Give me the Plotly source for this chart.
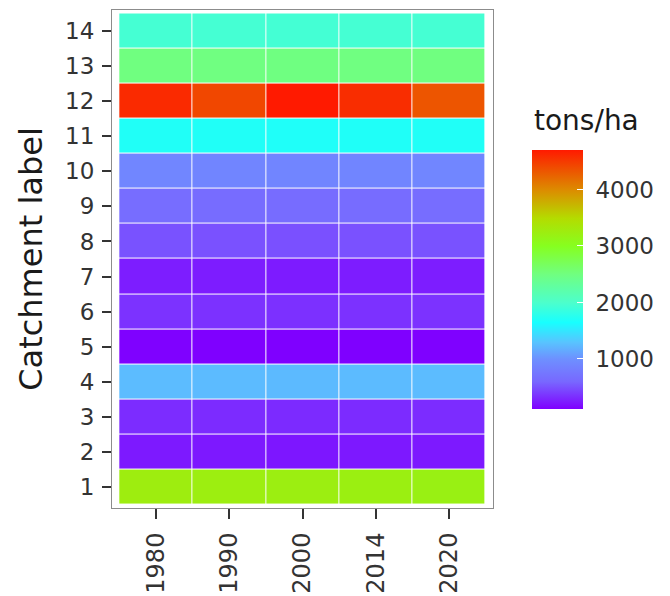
import plotly.graph_objects as go

years = ["1980", "1990", "2000", "2014", "2020"]
catchments = list(range(1, 15))

# tons/ha per catchment (rows) and year (columns)
row_1 = [3250, 3240, 3230, 3220, 3200]
row_2 = [230, 225, 220, 225, 230]
row_3 = [320, 315, 310, 315, 320]
row_4 = [1250, 1245, 1240, 1245, 1250]
row_5 = [118, 115, 115, 116, 118]
row_6 = [350, 345, 340, 345, 350]
row_7 = [250, 245, 240, 245, 250]
row_8 = [500, 495, 490, 495, 500]
row_9 = [650, 645, 640, 645, 650]
row_10 = [900, 895, 890, 895, 900]
row_11 = [1700, 1700, 1690, 1695, 1700]
row_12 = [4600, 4420, 4700, 4580, 4330]
row_13 = [2500, 2495, 2490, 2495, 2500]
row_14 = [1950, 1945, 1940, 1945, 1950]

z = [row_1, row_2, row_3, row_4, row_5, row_6, row_7,
     row_8, row_9, row_10, row_11, row_12, row_13, row_14]

colorbar_ticks = [1000, 2000, 3000, 4000]
colorbar_ticktext = ["1000", "2000", "3000", "4000"]
colorbar_title = "tons/ha"

FONT = "DejaVu Sans"

colorscale = [
    [0.0, "#7F00FF"],
    [0.106, "#7868FF"],
    [0.193, "#6E90FF"],
    [0.258, "#58C4FF"],
    [0.334, "#18FFFF"],
    [0.41, "#4CFFCC"],
    [0.52, "#70FF80"],
    [0.628, "#86FF20"],
    [0.736, "#B4DC00"],
    [0.845, "#DC8C00"],
    [1.0, "#FF1A00"],
]

fig = go.Figure(go.Heatmap(
    x=years,
    y=catchments,
    z=z,
    colorscale=colorscale,
    xgap=1,
    ygap=1,
    colorbar=dict(
        tickvals=colorbar_ticks,
        ticktext=[" " + t for t in colorbar_ticktext],
        ticks="inside",
        ticklen=6,
        tickcolor="white",
        tickfont=dict(size=23, color="#333333", family=FONT),
        thickness=51,
        thicknessmode="pixels",
        len=259,
        lenmode="pixels",
        x=1.1024,
        xanchor="left",
        y=0.459,
        yanchor="middle",
        xpad=0,
        ypad=0,
        outlinewidth=0,
    ),
))

fig.add_annotation(
    text=colorbar_title,
    xref="paper", yref="paper",
    x=1.1024, y=0.741,
    xanchor="left", yanchor="bottom",
    showarrow=False,
    font=dict(size=28, color="#1a1a1a", family=FONT),
)

fig.update_layout(
    width=662,
    height=588,
    margin=dict(l=104, r=177, t=2, b=88, autoexpand=False),
    paper_bgcolor="white",
    plot_bgcolor="white",
    font=dict(family=FONT, color="#333333"),
)

fig.update_xaxes(
    type="category",
    range=[-0.6, 4.6],
    tickangle=-90,
    ticks="outside",
    ticklen=10,
    tickwidth=2,
    tickcolor="#333333",
    tickfont=dict(size=24, color="#333333", family=FONT),
    ticklabelstandoff=4,
    showgrid=False,
    showline=True,
    linecolor="#8c8c8c",
    linewidth=1,
    mirror=True,
    zeroline=False,
    automargin=False,
)

fig.update_yaxes(
    range=[0.4, 14.6],
    tickvals=catchments,
    ticks="outside",
    ticklen=9,
    tickwidth=2,
    tickcolor="#333333",
    tickfont=dict(size=23, color="#333333", family=FONT),
    ticklabelstandoff=3,
    title=dict(text="Catchment label", font=dict(size=32, color="#1a1a1a", family=FONT), standoff=12),
    showgrid=False,
    showline=True,
    linecolor="#8c8c8c",
    linewidth=1,
    mirror=True,
    zeroline=False,
    automargin=False,
)

fig.write_html("out.html")
